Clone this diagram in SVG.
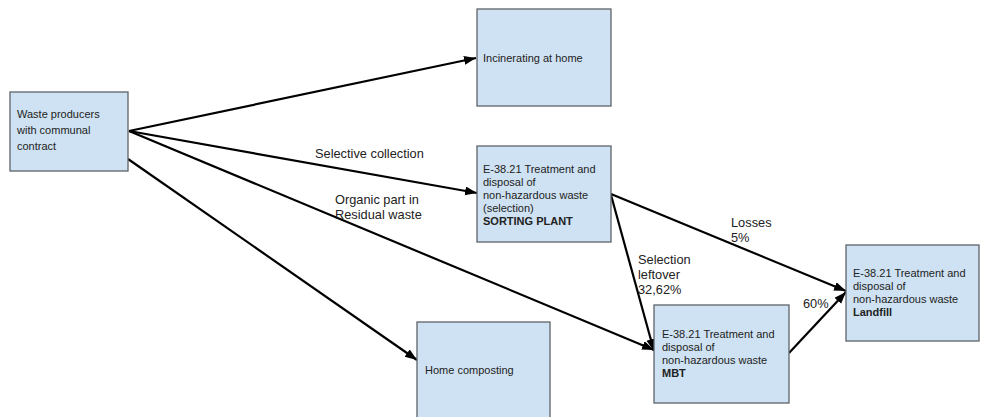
<svg xmlns="http://www.w3.org/2000/svg" width="983" height="417" viewBox="0 0 983 417">
  <style>
    .box { fill: #cfe2f3; stroke: #5f6368; stroke-width: 1.3; }
    .t { font-family: "Liberation Sans", Arial, sans-serif; font-size: 11px; fill: #222; }
    .b { font-weight: bold; }
    .lbl { font-family: "Liberation Sans", Arial, sans-serif; font-size: 12.8px; fill: #222; }
    .edge { stroke: #000; stroke-width: 2.2; fill: none; marker-end: url(#arrow); }
  </style>
  <defs>
    <marker id="arrow" markerUnits="userSpaceOnUse" markerWidth="13" markerHeight="10" refX="12" refY="4.5" orient="auto">
      <path d="M0,0 L12,4.5 L0,9 z" fill="#000"/>
    </marker>
  </defs>

  <rect width="983" height="417" fill="#fff"/>

  <!-- connectors -->
  <g id="connectors">
    <line class="edge" x1="129" y1="131" x2="476" y2="58"/>
    <line class="edge" x1="129" y1="131" x2="477" y2="193"/>
    <line class="edge" x1="129" y1="131" x2="654" y2="350"/>
    <line class="edge" x1="128" y1="159" x2="417" y2="360"/>
    <line class="edge" x1="611" y1="194" x2="846" y2="291"/>
    <line class="edge" x1="611" y1="195" x2="654" y2="351"/>
    <line class="edge" x1="789" y1="353" x2="846" y2="292"/>
    <text class="lbl" x="315" y="158">Selective collection</text>
    <text class="lbl" x="335" y="204">Organic part in</text>
    <text class="lbl" x="335" y="219">Residual waste</text>
    <text class="lbl" x="731" y="227">Losses</text>
    <text class="lbl" x="731" y="242">5%</text>
    <text class="lbl" x="638" y="264">Selection</text>
    <text class="lbl" x="638" y="279">leftover</text>
    <text class="lbl" x="638" y="294">32,62%</text>
    <text class="lbl" x="803" y="308">60%</text>
  </g>

  <!-- nodes -->
  <g id="producers">
    <rect class="box" x="10" y="92" width="118" height="79"/>
    <text class="t" x="17" y="118">Waste producers</text>
    <text class="t" x="17" y="134">with communal</text>
    <text class="t" x="17" y="150">contract</text>
  </g>

  <g id="incinerating">
    <rect class="box" x="477" y="9" width="134" height="97"/>
    <text class="t" x="483" y="62">Incinerating at home</text>
  </g>

  <g id="sorting">
    <rect class="box" x="477" y="146" width="134" height="96"/>
    <text class="t" x="483" y="173">E-38.21 Treatment and</text>
    <text class="t" x="483" y="186">disposal of</text>
    <text class="t" x="483" y="199">non-hazardous waste</text>
    <text class="t" x="483" y="212">(selection)</text>
    <text class="t b" x="483" y="225">SORTING PLANT</text>
  </g>

  <g id="composting">
    <rect class="box" x="417" y="322" width="133" height="100"/>
    <text class="t" x="425" y="374">Home composting</text>
  </g>

  <g id="mbt">
    <rect class="box" x="654" y="305" width="135" height="98"/>
    <text class="t" x="662" y="338">E-38.21 Treatment and</text>
    <text class="t" x="662" y="351">disposal of</text>
    <text class="t" x="662" y="364">non-hazardous waste</text>
    <text class="t b" x="662" y="377">MBT</text>
  </g>

  <g id="landfill">
    <rect class="box" x="846" y="245" width="133" height="96"/>
    <text class="t" x="853" y="277">E-38.21 Treatment and</text>
    <text class="t" x="853" y="290">disposal of</text>
    <text class="t" x="853" y="303">non-hazardous waste</text>
    <text class="t b" x="853" y="316">Landfill</text>
  </g>
</svg>
